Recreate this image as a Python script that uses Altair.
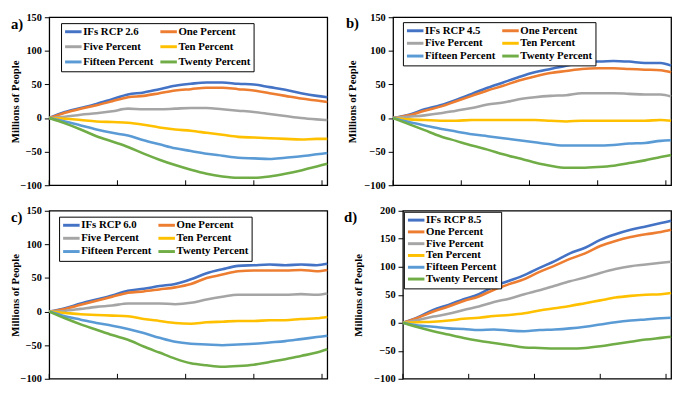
import altair as alt
import pandas as pd

years = [2017, 2020, 2023, 2026, 2029, 2032, 2035, 2038, 2041, 2044,
         2047, 2050, 2053, 2056, 2059, 2062, 2065, 2068, 2070]
x_ticks = [2017, 2030, 2043, 2056, 2069]

other_series = ["One Percent", "Five Percent", "Ten Percent", "Fifteen Percent", "Twenty Percent"]
colors = ["#4472C4", "#ED7D31", "#A5A5A5", "#FFC000", "#5B9BD5", "#70AD47"]

# Panel a) IFs RCP 2.6
a_ifs = [0, 9, 15, 21, 28, 35, 38, 43, 48, 51, 53, 53, 51, 50, 46, 42, 37, 33, 31]
a_one = [0, 8, 14, 19, 25, 31, 33, 37, 41, 43, 45, 45, 43, 41, 37, 33, 29, 26, 24]
a_five = [0, 2, 5, 7, 10, 14, 13, 13, 14, 15, 15, 13, 11, 9, 6, 3, 0, -2, -3]
a_ten = [0, -1, -3, -5, -6, -7, -10, -14, -17, -19, -22, -25, -28, -29, -30, -31, -32, -31, -31]
a_fifteen = [0, -5, -11, -17, -22, -26, -33, -39, -45, -49, -53, -56, -59, -60, -61, -59, -57, -54, -52]
a_twenty = [0, -8, -17, -27, -35, -43, -53, -62, -70, -77, -83, -87, -89, -89, -87, -83, -78, -72, -68]

# Panel b) IFs RCP 4.5
b_ifs = [0, 5, 13, 19, 27, 36, 45, 53, 61, 68, 73, 78, 82, 84, 85, 84, 82, 82, 78]
b_one = [0, 4, 11, 17, 25, 33, 41, 48, 56, 62, 67, 70, 73, 74, 74, 73, 72, 71, 68]
b_five = [0, 2, 4, 7, 11, 15, 20, 23, 28, 31, 33, 34, 37, 37, 37, 36, 35, 35, 32]
b_ten = [0, -2, -3, -4, -4, -3, -3, -3, -3, -3, -4, -5, -4, -4, -4, -4, -4, -3, -4]
b_fifteen = [0, -6, -11, -16, -20, -24, -27, -30, -33, -36, -39, -41, -41, -41, -40, -38, -37, -34, -33]
b_twenty = [0, -9, -18, -27, -34, -41, -47, -54, -60, -66, -71, -74, -74, -73, -71, -67, -63, -58, -55]

# Panel c) IFs RCP 6.0
c_ifs = [0, 5, 12, 18, 24, 31, 34, 38, 41, 48, 57, 63, 68, 69, 70, 69, 70, 69, 71]
c_one = [0, 4, 10, 16, 22, 28, 30, 33, 36, 41, 50, 55, 60, 61, 61, 61, 62, 60, 62]
c_five = [0, 1, 4, 7, 9, 12, 12, 12, 11, 13, 18, 22, 25, 25, 25, 25, 26, 25, 27]
c_ten = [0, -2, -4, -5, -6, -7, -11, -14, -17, -18, -16, -15, -14, -14, -13, -13, -11, -10, -8]
c_fifteen = [0, -7, -12, -17, -21, -26, -32, -39, -45, -48, -49, -50, -49, -48, -46, -44, -41, -38, -36]
c_twenty = [0, -10, -19, -27, -35, -42, -52, -61, -70, -77, -80, -82, -81, -79, -75, -71, -66, -61, -56]

# Panel d) IFs RCP 8.5
d_ifs = [0, 10, 23, 32, 42, 51, 65, 75, 85, 98, 110, 124, 134, 148, 158, 166, 172, 178, 182]
d_one = [0, 9, 20, 29, 39, 47, 59, 69, 78, 91, 102, 114, 124, 137, 146, 153, 158, 162, 166]
d_five = [0, 5, 11, 16, 23, 29, 37, 43, 51, 58, 66, 74, 81, 89, 96, 101, 104, 107, 109]
d_ten = [0, 1, 2, 4, 7, 9, 12, 14, 17, 22, 26, 30, 35, 40, 45, 48, 50, 51, 53]
d_fifteen = [0, -5, -7, -10, -11, -13, -12, -14, -15, -13, -12, -10, -7, -3, 1, 4, 6, 8, 9]
d_twenty = [0, -8, -15, -21, -27, -32, -36, -40, -44, -45, -46, -46, -45, -42, -38, -34, -30, -27, -25]

FONT = "'Liberation Serif', 'Times New Roman', Tinos, 'DejaVu Serif', serif"
H = 171


def panel(label, ifs_name, series_values, ydomain, yticks, width,
          legend_cols, legend_x, legend_y, row_pad, title_pad, lab_x, lab_y):
    names = [ifs_name] + other_series
    rows = []
    for name, vals in zip(names, series_values):
        for yr, v in zip(years, vals):
            rows.append({"year": yr, "value": v, "series": name})
    df = pd.DataFrame(rows)

    if legend_cols == 2:
        order = [0, 2, 4, 1, 3, 5]  # legend fills columns first
    else:
        order = [0, 1, 2, 3, 4, 5]
    dom = [names[i] for i in order]
    rng = [colors[i] for i in order]

    lines = alt.Chart(df).mark_line(strokeWidth=2.6, interpolate="monotone").encode(
        x=alt.X("year:Q",
                scale=alt.Scale(domain=[2017, 2070], nice=False, zero=False),
                axis=alt.Axis(values=x_ticks, format="d", title=None, ticks=False,
                              tickSize=0, labelPadding=8, labelFlush=False,
                              domain=False)),
        y=alt.Y("value:Q",
                scale=alt.Scale(domain=ydomain, nice=False, zero=False),
                axis=alt.Axis(values=yticks, title="Millions of People",
                              titlePadding=title_pad, tickSize=5, labelPadding=3,
                              domain=False)),
        color=alt.Color("series:N",
                        scale=alt.Scale(domain=dom, range=rng),
                        legend=alt.Legend(title=None, orient="none",
                                          legendX=legend_x, legendY=legend_y,
                                          columns=legend_cols, rowPadding=row_pad)),
    )
    tick_df = pd.DataFrame({"year": x_ticks})
    ticks = alt.Chart(tick_df).mark_rule(color="black", strokeWidth=1).encode(
        x=alt.X("year:Q", axis=None),
        y=alt.value(H),
        y2=alt.value(H - 5),
    )
    lab = alt.Chart(pd.DataFrame({"t": [label]})).mark_text(
        font=FONT, fontWeight="bold", fontSize=15, align="left",
        baseline="middle", color="black"
    ).encode(text="t:N", x=alt.value(lab_x), y=alt.value(lab_y))
    return alt.layer(lines, ticks, lab).properties(width=width, height=H)


pa = panel("a)", "IFs RCP 2.6",
           [a_ifs, a_one, a_five, a_ten, a_fifteen, a_twenty],
           [-100, 150], [-100, -50, 0, 50, 100, 150], 283, 2, 12, 6, 2.5, 0, -39, 7)
pb = panel("b)", "IFs RCP 4.5",
           [b_ifs, b_one, b_five, b_ten, b_fifteen, b_twenty],
           [-100, 150], [-100, -50, 0, 50, 100, 150], 283, 2, 10, 5, 0, 7, -48, 6)
pc = panel("c)", "IFs RCP 6.0",
           [c_ifs, c_one, c_five, c_ten, c_fifteen, c_twenty],
           [-100, 150], [-100, -50, 0, 50, 100, 150], 283, 2, 10, 6, 0.5, 0, -39, 6)
pd_ = panel("d)", "IFs RCP 8.5",
            [d_ifs, d_one, d_five, d_ten, d_fifteen, d_twenty],
            [-100, 200], [-100, -50, 0, 50, 100, 150, 200], 273, 1, 1, 1, -2, 10, -60, 6)

top = alt.hconcat(pa, pb, spacing=67, bounds="flush").resolve_scale(
    color="independent", x="independent", y="independent").resolve_legend(color="independent")
bottom = alt.hconcat(pc, pd_, spacing=77, bounds="flush").resolve_scale(
    color="independent", x="independent", y="independent").resolve_legend(color="independent")

chart = alt.vconcat(top, bottom, spacing=13).resolve_scale(
    color="independent", x="independent", y="independent"
).resolve_legend(color="independent").configure_view(
    stroke="black", strokeWidth=1.3
).configure_axis(
    labelFont=FONT, labelFontWeight="bold", labelFontSize=10.5, labelColor="black",
    titleFont=FONT, titleFontWeight="bold", titleFontSize=11, titleColor="black",
    grid=False, tickColor="black", domainColor="black"
).configure_legend(
    symbolType="M-2.1,0L2.1,0", symbolStrokeWidth=3, symbolSize=64,
    labelFont=FONT, labelFontWeight="bold", labelFontSize=11, labelColor="black",
    strokeColor="black", fillColor="white", padding=3, columnPadding=0,
    labelOffset=4.5, symbolOffset=4
).properties(background="white", padding=0)

chart.save("out.html", embed_options={"renderer": "svg", "actions": False})
